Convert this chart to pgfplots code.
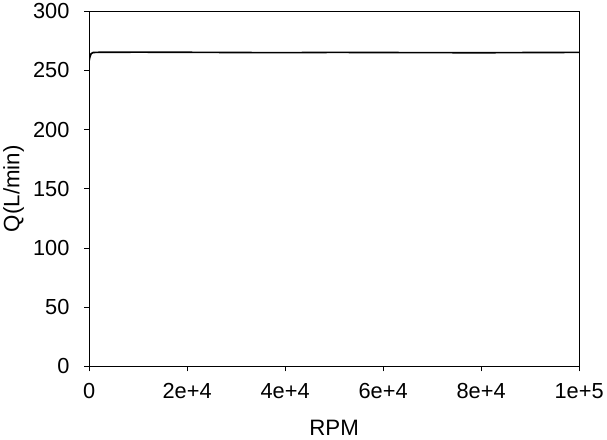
\documentclass[border=0pt]{standalone}
\usepackage{fontspec}
\setmainfont{Liberation Sans}
\usepackage{pgfplots}
\pgfplotsset{compat=1.18}

\begin{document}
\begin{tikzpicture}[x=1bp,y=1bp]
\begin{axis}[
    width=484bp, height=351bp,
    scale only axis,
    xmin=0, xmax=100000,
    ymin=0, ymax=300,
    xtick={0,20000,40000,60000,80000,100000},
    xticklabels={0,2e+4,4e+4,6e+4,8e+4,1e+5},
    ytick={0,50,100,150,200,250,300},
    scaled x ticks=false,
    tick align=outside,
    major tick length=5bp,
    xtick pos=bottom, ytick pos=left,
    axis line style={line width=0.8bp},
    tick style={line width=0.8bp, black},
    /pgf/number format/assume math mode=true,
    tick label style={font=\fontsize{21.5bp}{24bp}\selectfont},
    xticklabel style={yshift=-8bp},
    yticklabel style={xshift=-11bp},
    every axis label/.append style={font=\fontsize{22bp}{25bp}\selectfont},
    xlabel={RPM},
    ylabel={Q(L/min)},
    xlabel style={yshift=-15bp},
    ylabel style={yshift=2bp},
]
\addplot[black, line width=1.6bp] coordinates {
(0,258) (150,261) (400,264) (800,265) (2000,265.2) (10000,265.3)
(20000,265.2) (30000,265.0) (40000,264.9) (50000,265.1) (60000,265.0)
(70000,264.9) (80000,264.8) (90000,265.0) (100000,265.1)
};
\end{axis}
\end{tikzpicture}
\end{document}
